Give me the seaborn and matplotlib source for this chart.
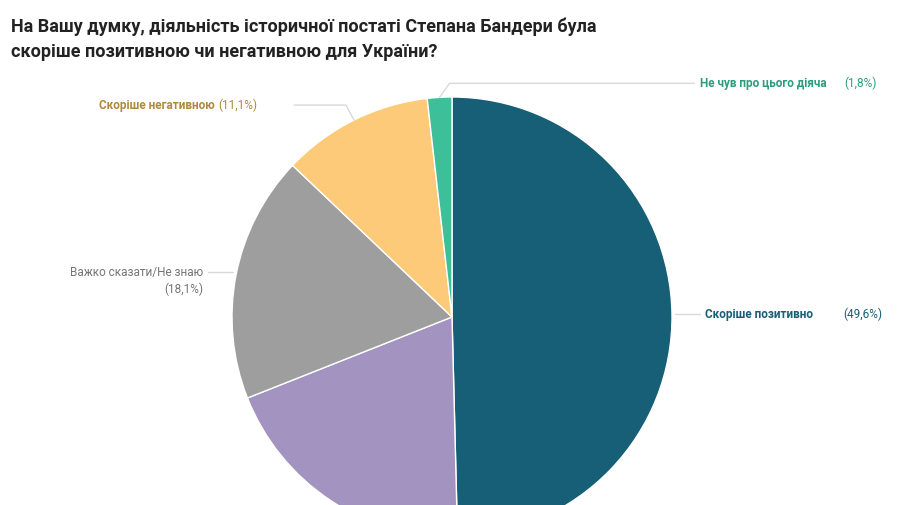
import matplotlib
matplotlib.use("Agg")
import matplotlib.pyplot as plt
import seaborn as sns
import numpy as np

labels = ["Скоріше позитивно", "", "Важко сказати/Не знаю", "Скоріше негативною", "Не чув про цього діяча"]
values = [49.6, 19.4, 18.1, 11.1, 1.8]
colors = ["#175f77", "#a393c0", "#9e9e9e", "#fdca79", "#3dbf99"]

sns.set_theme(style="white")
plt.rcParams['font.family'] = ['Roboto', 'DejaVu Sans']

fig = plt.figure(figsize=(9, 5.05), dpi=100)
ax = fig.add_axes([0, 0, 1, 1])
ax.set_xlim(0, 900); ax.set_ylim(0, 505); ax.axis("off")
cx, cy, R = 452, 188, 220
wedges, _ = ax.pie(values, colors=colors, startangle=90, counterclock=False,
                   center=(cx, cy), radius=R, frame=True,
                   wedgeprops=dict(linewidth=1, edgecolor="white"))
ax.set_xlim(0, 900); ax.set_ylim(0, 505); ax.axis("off")

def edge(i):
    w = wedges[i]
    a = np.deg2rad((w.theta1 + w.theta2) / 2)
    return cx + R*np.cos(a), cy + R*np.sin(a)

lc = "#d9d9d9"
# positive
x0, y0 = edge(0)
ax.plot([x0+3, x0+28], [y0, y0], color=lc, lw=1)
ax.text(x0+33, y0, labels[0], color=colors[0], fontsize=8.5, fontweight="bold", va="center")
ax.text(x0+33+138, y0, "(49,6%)", color=colors[0], fontsize=8.5, va="center")
# gray
x0, y0 = edge(2)
ax.plot([x0-3, x0-28], [y0+3, y0+3], color=lc, lw=1)
ax.text(x0-33, y0+3, labels[2], color="#757575", fontsize=8.5, ha="right", va="center")
ax.text(x0-33, y0-14, "(18,1%)", color="#757575", fontsize=8.5, ha="right", va="center")
# yellow
x0, y0 = edge(3)
ax.plot([x0, x0-8, x0-60], [y0, y0+15, y0+15], color=lc, lw=1)
ax.text(x0-136, y0+15, "(11,1%)", color="#b08a3a", fontsize=8.5, va="center")
ax.text(x0-136, y0+15, labels[3]+" ", color="#b08a3a", fontsize=8.5, fontweight="bold", ha="right", va="center")
# green
x0, y0 = edge(4)
ax.plot([x0, x0+10, x0+255], [y0, y0+14, y0+14], color=lc, lw=1)
ax.text(x0+260, y0+14, labels[4]+" ", color="#2a9d7c", fontsize=8.5, fontweight="bold", va="center")
ax.text(x0+260+145, y0+14, "(1,8%)", color="#2a9d7c", fontsize=8.5, va="center")

fig.text(0.012, 0.965, "На Вашу думку, діяльність історичної постаті Степана Бандери була\nскоріше позитивною чи негативною для України?",
         fontsize=13, fontweight="bold", color="#222222", va="top", linespacing=1.5)
fig.savefig("out.png", dpi=100)
